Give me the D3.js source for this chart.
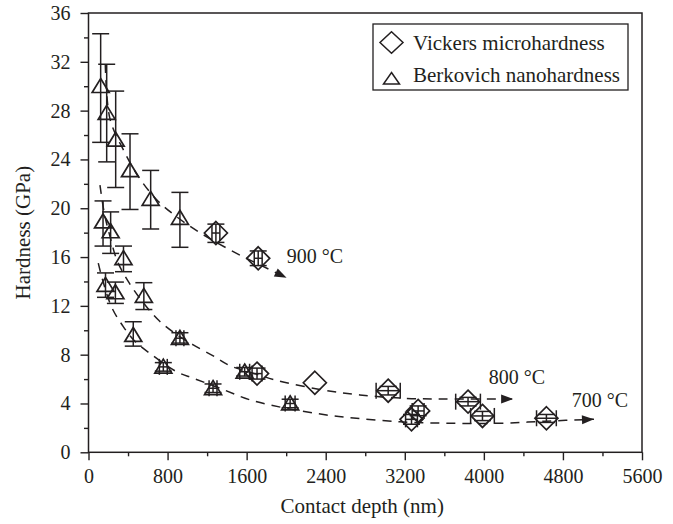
<!DOCTYPE html>
<html><head><meta charset="utf-8">
<script src="https://cdn.jsdelivr.net/npm/d3@7"></script>
<style>
html,body{margin:0;padding:0;background:#fff;}
svg text{font-family:"Liberation Serif","DejaVu Serif","Noto Serif","Times New Roman",Times,serif !important;}
</style></head>
<body><svg id="c" width="673" height="524"></svg>
<script>
// ---- data (contact depth nm, hardness GPa) ----
const xTicksMajor = [0,800,1600,2400,3200,4000,4800,5600];
const xTicksMinor = [400,1200,2000,2800,3600,4400,5200];
const yTicksMajor = [0,4,8,12,16,20,24,28,32,36];
const yTicksMinor = [2,6,10,14,18,22,26,30,34];

// Berkovich nanohardness: [depth, hardness, lowY, highY, xErr]
const berk900 = [[123,30.0,25.4,34.3,0],[184,27.8,23.8,31.8,0],[275,25.6,21.7,29.6,0],[420,23.1,19.9,26.1,0],[629,20.75,18.3,23.1,0],[925,19.2,16.8,21.3,0]];
const berk800 = [[147,18.9,16.9,20.6,0],[224,18.1,16.3,19.7,0],[354,15.9,14.8,16.9,0],[560,12.8,11.7,13.9,0],[925,9.35,8.95,9.8,40],[1580,6.6,6.25,6.95,50]];
const berk700 = [[172,13.7,12.7,14.7,0],[272,13.1,12.2,13.95,0],[453,9.6,8.7,10.7,0],[757,7.0,6.65,7.35,40],[1260,5.25,4.9,5.6,40],[2040,4.0,3.65,4.35,50]];
// Vickers microhardness: [depth, hardness, lowY, highY, xErr]
const vick900 = [[1289,17.97,17.2,18.7,40],[1717,15.9,15.3,16.5,40]];
const vick800 = [[1705,6.45,6.0,6.9,50],[2290,5.7,5.7,5.7,0],[3032,5.05,4.7,5.4,122],[3840,4.15,3.8,4.5,125]];
const vick700 = [[3268,2.7,2.3,3.1,60],[3335,3.39,3.0,3.8,60],[3986,2.98,2.6,3.35,120],[4633,2.79,2.45,3.1,100]];

// dashed trend curves
const fit900 = [[170,31.8],[218,27.3],[352,24.8],[504,22.6],[690,20.7],[892,19.3],[1127,18.0],[1498,16.3],[1750,15.3],[2004,14.3]];
const fit800 = [[116,21.9],[160,19.6],[217,17.7],[290,15.7],[402,14.0],[550,12.3],[713,10.8],[900,9.6],[1060,8.8],[1262,7.9],[1431,7.1],[1700,6.4],[1903,5.9],[2341,5.15],[2745,4.7],[3217,4.42],[3600,4.37],[4296,4.37]];
const fit700 = [[99,15.5],[140,14.2],[234,11.9],[352,10.3],[470,9.1],[622,8.1],[892,6.6],[1060,6.07],[1330,5.25],[1633,4.3],[2004,3.6],[2408,3.06],[2644,2.84],[3150,2.5],[3655,2.38],[4161,2.38],[4633,2.55],[5114,2.71]];

const curveLabels = [["900 °C",2005,15.5],["800 °C",4050,5.6],["700 °C",4890,3.75]];
const legendItems = ["Vickers microhardness","Berkovich nanohardness"];

// ---- drawing ----
const ink = "#231f20";
const serif = "'Liberation Serif','DejaVu Serif','Noto Serif',serif";
const svg = d3.select("#c");
const x = d3.scaleLinear().domain([0,5600]).range([88.5,642]);
const y = d3.scaleLinear().domain([0,36]).range([452.3,13]);

const defs = svg.append("defs");
defs.append("marker").attr("id","arr").attr("viewBox","0 0 12 10").attr("refX",12).attr("refY",5)
  .attr("markerWidth",13).attr("markerHeight",10).attr("markerUnits","userSpaceOnUse").attr("orient","auto")
  .append("path").attr("d","M0,0.5L12,5L0,9.5Z").attr("fill",ink);

// axes
function styleAxis(g){ g.attr("font-family",serif); g.select(".domain").remove(); g.selectAll("line").attr("stroke",ink).attr("stroke-width",1.4); g.selectAll("text").attr("fill",ink).attr("font-size",20).attr("font-family",serif); }
svg.append("g").attr("transform",`translate(0,${y(0)})`)
  .call(d3.axisBottom(x).tickValues(xTicksMajor).tickSize(8).tickPadding(9).tickFormat(d3.format("d"))).call(styleAxis);
svg.append("g").attr("transform",`translate(0,${y(0)})`)
  .call(d3.axisBottom(x).tickValues(xTicksMinor).tickSize(4).tickFormat("")).call(styleAxis);
svg.append("g").attr("transform",`translate(${x(0)},0)`)
  .call(d3.axisLeft(y).tickValues(yTicksMajor).tickSize(8).tickPadding(10).tickFormat(d3.format("d"))).call(styleAxis);
svg.append("g").attr("transform",`translate(${x(0)},0)`)
  .call(d3.axisLeft(y).tickValues(yTicksMinor).tickSize(4.5).tickFormat("")).call(styleAxis);

// frame
svg.append("rect").attr("x",x(0)).attr("y",y(36)).attr("width",x(5600)-x(0)).attr("height",y(0)-y(36))
  .attr("fill","none").attr("stroke",ink).attr("stroke-width",1.5);

// titles
svg.append("text").attr("x",(x(0)+x(5600))/2-3).attr("y",513).attr("text-anchor","middle")
  .attr("font-family",serif).attr("font-size",21).attr("fill",ink).text("Contact depth (nm)");
svg.append("text").attr("transform",`translate(30,${(y(0)+y(36))/2}) rotate(-90)`).attr("text-anchor","middle")
  .attr("font-family",serif).attr("font-size",21).attr("fill",ink).text("Hardness (GPa)");

// curves
const line = d3.line().x(d=>x(d[0])).y(d=>y(d[1])).curve(d3.curveCatmullRom.alpha(0.5));
[fit900,fit800,fit700].forEach(f=>{
  svg.append("path").attr("d",line(f)).attr("fill","none").attr("stroke",ink).attr("stroke-width",1.5)
    .attr("stroke-dasharray","9,7").attr("marker-end","url(#arr)");
});
curveLabels.forEach(l=>{
  svg.append("text").attr("x",x(l[1])).attr("y",y(l[2])).attr("font-family",serif).attr("font-size",20).attr("fill",ink).text(l[0]);
});

// error bars
function errBars(data){
  const g = svg.append("g").attr("stroke",ink).attr("stroke-width",1.5).attr("fill","none");
  data.forEach(d=>{
    const cx = x(d[0]);
    if (d[3]>d[2]) {
      g.append("line").attr("x1",cx).attr("x2",cx).attr("y1",y(d[2])).attr("y2",y(d[3]));
      [d[2],d[3]].forEach(v=>g.append("line").attr("x1",cx-8.5).attr("x2",cx+8.5).attr("y1",y(v)).attr("y2",y(v)));
    }
    if (d[4]>0) {
      const cy = y(d[1]);
      g.append("line").attr("x1",x(d[0]-d[4])).attr("x2",x(d[0]+d[4])).attr("y1",cy).attr("y2",cy);
      [d[0]-d[4],d[0]+d[4]].forEach(v=>g.append("line").attr("x1",x(v)).attr("x2",x(v)).attr("y1",cy-8).attr("y2",cy+8));
    }
  });
}
const triPath = (cx,cy,w,h)=>`M${cx},${cy-h*0.55}L${cx+w/2},${cy+h*0.45}L${cx-w/2},${cy+h*0.45}Z`;
const diaPath = (cx,cy,rx,ry)=>`M${cx},${cy-ry}L${cx+rx},${cy}L${cx},${cy+ry}L${cx-rx},${cy}Z`;
function triangles(data){
  svg.append("g").selectAll("path").data(data).join("path")
    .attr("d",d=>triPath(x(d[0]),y(d[1]),17,14)).attr("fill","none").attr("stroke",ink).attr("stroke-width",1.7);
}
function diamonds(data){
  svg.append("g").selectAll("path").data(data).join("path")
    .attr("d",d=>diaPath(x(d[0]),y(d[1]),11.5,11.5)).attr("fill","none").attr("stroke",ink).attr("stroke-width",1.7);
}
[berk900,berk800,berk700].forEach(d=>{triangles(d);errBars(d);});
[vick900,vick800,vick700].forEach(d=>{diamonds(d);errBars(d);});

// legend
const lg = svg.append("g");
lg.append("rect").attr("x",373).attr("y",24).attr("width",255).attr("height",66).attr("fill","#fff")
  .attr("stroke",ink).attr("stroke-width",1.3);
lg.append("path").attr("d",diaPath(391.5,42.5,11.5,10.8)).attr("fill","none").attr("stroke",ink).attr("stroke-width",1.5);
lg.append("path").attr("d",`M391.5,72.5L399.5,84L383.5,84Z`).attr("fill","none").attr("stroke",ink).attr("stroke-width",1.5);
legendItems.forEach((t,i)=>{
  lg.append("text").attr("x",413).attr("y",i?82:50).attr("font-family",serif).attr("font-size",21).attr("fill",ink).text(t);
});
</script></body></html>
